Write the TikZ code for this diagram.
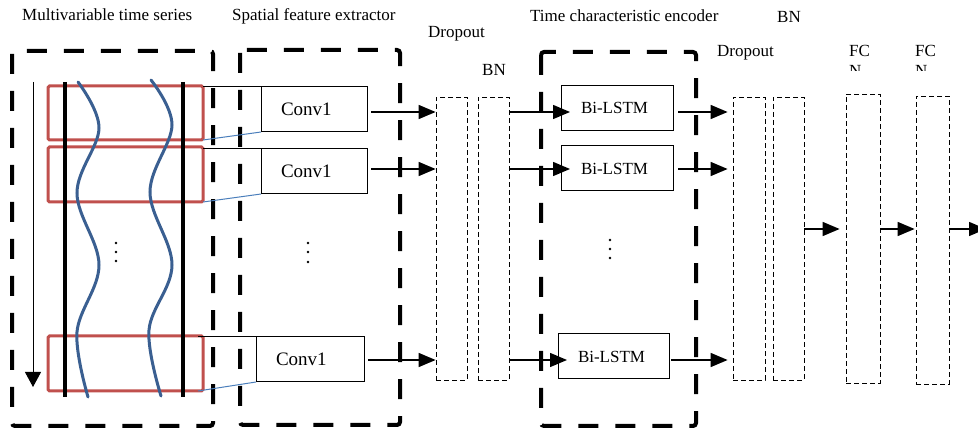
\documentclass[tikz,border=0pt]{standalone}
\usepackage{fontspec}
\setmainfont{Liberation Serif}
\usetikzlibrary{arrows.meta}
\definecolor{redbox}{RGB}{192,80,77}
\definecolor{wavec}{RGB}{58,95,145}
\definecolor{linkc}{RGB}{74,126,187}
\begin{document}
\begin{tikzpicture}[x=1pt,y=-1pt,
  lab/.style={anchor=base west, inner sep=0pt, font=\fontsize{17}{20}\selectfont},
  bigdash/.style={line width=4pt, dash pattern=on 20pt off 17pt, rounded corners=3pt},
  thinbox/.style={draw, line width=0.8pt, dash pattern=on 5pt off 3pt, inner sep=0pt},
  redrect/.style={draw=redbox, line width=3pt, rounded corners=1.5pt, inner sep=0pt, outer sep=0pt, minimum width=155pt},
  procbox/.style={draw, line width=1pt, inner xsep=20pt, inner ysep=0pt, outer sep=0pt, align=left, minimum height=45pt},
  flow/.style={line width=1.5pt, -{Triangle[length=17pt,width=14pt]}},
  bar/.style={line width=4pt},
  wavy/.style={draw=wavec, line width=3pt, line cap=round},
  dotc/.style={fill, circle, inner sep=0pt, minimum size=2.6pt},
]
\useasboundingbox (0,0) rectangle (978,430);

% titles
\node[lab] (t1) at (22,21) {Multivariable time series};
\node[lab] (t2) at (232,21) {Spatial feature extractor};
\node[lab] (t3) at (530,22) {Time characteristic encoder};
\node[lab] (t4) at (428,38) {Dropout};
\node[lab] (t5) at (482,76) {BN};
\node[lab] (t6) at (777,23) {BN};
\node[lab] (t7) at (717,57) {Dropout};
\node[lab] (t8) at (849,57) {FC};
\node[lab] (t9) at (915,57) {FC};
\begin{scope}
  \clip (840,60) rectangle (960,70.5);
  \node[lab] (t10) at (849,77) {N};
  \node[lab] (t11) at (915,77) {N};
\end{scope}

% big dashed boxes
\draw[bigdash] (12,51) rectangle (213,426);
\draw[bigdash] (240,50) rectangle (400,425);
\draw[bigdash] (541,52) rectangle (696,426);

% red windows
\node[redrect, minimum height=54pt] (r1) at (125.5,113) {};
\node[redrect, minimum height=55pt] (r2) at (125.5,174.5) {};
\node[redrect, minimum height=55pt] (r3) at (125.5,363.5) {};

% black bars
\draw[bar] (65,82) -- (65,397);
\draw[bar] (183,82) -- (183,397);

% waves
\draw[wavy] plot[smooth, tension=0.6] coordinates {(78,82) (99,128) (77,193) (99,265) (77,332) (88,397)};
\draw[wavy] plot[smooth, tension=0.6] coordinates {(151,80) (172,125) (150,192) (172,265) (149,330) (161,396)};

% time arrow
\coordinate (ta) at (33,82);
\coordinate (tb) at (33,387);
\draw[line width=1pt, -{Triangle[length=15pt,width=16pt]}] (ta) -- (tb);

% dots
\node[dotc] (p1) at (116,243) {};
\node[dotc] (p2) at (116,252) {};
\node[dotc] (p3) at (116,261) {};
\node[dotc] (p4) at (308,243) {};
\node[dotc] (p5) at (308,252) {};
\node[dotc] (p6) at (308,262) {};
\node[dotc] (p7) at (610,240) {};
\node[dotc] (p8) at (610,249) {};
\node[dotc] (p9) at (610,258) {};

% conv boxes
\node[procbox, text width=66pt, font=\fontsize{19}{22}\selectfont] (c1) at (314,109.5) {Conv1};
\node[procbox, text width=66pt, font=\fontsize{19}{22}\selectfont] (c2) at (314,171.5) {Conv1};
\node[procbox, text width=68pt, font=\fontsize{19}{22}\selectfont] (c3) at (310,359.5) {Conv1};

% links red -> conv
\draw[line width=1pt] (r1.east |- c1.north west) -- (c1.north west);
\draw[line width=1pt] (r2.east |- c2.north west) -- (c2.north west);
\draw[line width=1pt] ([xshift=-5pt]r3.east |- c3.north west) -- (c3.north west);
\draw[linkc, line width=1pt] (r1.south east) -- (c1.south west);
\draw[linkc, line width=1pt] (r2.south east) -- (c2.south west);
\draw[linkc, line width=1pt] ([xshift=-5pt]r3.south east) -- (c3.south west);

% thin dashed columns
\node[thinbox, minimum width=31pt, minimum height=283pt] (d1) at (451.5,238.5) {};
\node[thinbox, minimum width=31pt, minimum height=283pt] (b1) at (493.5,238.5) {};
\node[thinbox, minimum width=32pt, minimum height=283pt] (d2) at (749,238.5) {};
\node[thinbox, minimum width=31pt, minimum height=283pt] (b2) at (788.5,238.5) {};
\node[thinbox, minimum width=34pt, minimum height=289pt] (f1) at (863,238.5) {};
\node[thinbox, minimum width=33pt, minimum height=288pt] (f2) at (932.5,240) {};

% LSTM boxes
\node[procbox, text width=72pt, font=\fontsize{17}{20}\selectfont] (l1) at (617,108) {Bi-LSTM};
\node[procbox, text width=72pt, font=\fontsize{17}{20}\selectfont] (l2) at (617,168.5) {Bi-LSTM};
\node[procbox, text width=71pt, font=\fontsize{17}{20}\selectfont] (l3) at (613.5,356.5) {Bi-LSTM};

% row coordinates
\coordinate (row1) at (0,112);
\coordinate (row2) at (0,169);
\coordinate (row3) at (0,360);
\coordinate (row4) at (0,229);
\coordinate (out) at (986,229);

% flows
\draw[flow, shorten <=4pt] (c1.east |- row1) -- (d1.west |- row1);
\draw[flow, shorten <=4pt] (c2.east |- row2) -- (d1.west |- row2);
\draw[flow, shorten <=4pt] (c3.east |- row3) -- (d1.west |- row3);
\draw[flow, shorten >=-9pt] (b1.east |- row1) -- (l1.west |- row1);
\draw[flow, shorten >=-9pt] (b1.east |- row2) -- (l2.west |- row2);
\draw[flow, shorten >=-9pt] (b1.east |- row3) -- (l3.west |- row3);
\draw[flow, shorten <=5pt, shorten >=5pt] (l1.east |- row1) -- (d2.west |- row1);
\draw[flow, shorten <=5pt, shorten >=5pt] (l2.east |- row2) -- (d2.west |- row2);
\draw[flow, shorten <=2pt, shorten >=5pt] (l3.east |- row3) -- (d2.west |- row3);
\draw[flow, shorten >=6pt] (b2.east |- row4) -- (f1.west |- row4);
\draw[flow, shorten >=1pt] (f1.east |- row4) -- (f2.west |- row4);
\draw[flow] (f2.east |- row4) -- (out);
\end{tikzpicture}
\end{document}
